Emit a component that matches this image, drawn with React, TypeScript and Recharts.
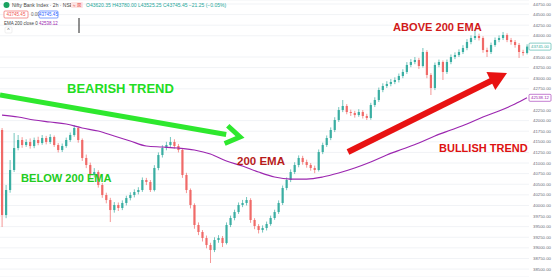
import { Bar, CartesianGrid, ComposedChart, Line, ReferenceLine, XAxis, YAxis } from "recharts";

// price data (2h candles)
const firstOpen = 41779;
const closes = [
  39774, 40364, 40836, 41354, 41543, 41425, 41496, 41401, 41543, 41472,
  41590, 41496, 41614, 41425, 41307, 41401, 41543, 41661, 41826, 41543,
  41119, 40954, 40718, 40788, 40482, 40246, 40128, 39892, 40011, 39940,
  40058, 40175, 40246, 40317, 40364, 40600, 40553, 40364, 40883, 41189,
  41354, 41425, 41496, 41401, 41307, 40718, 40364, 40011, 39539, 39374,
  39232, 39067, 38949, 39185, 39232, 39114, 39539, 39704, 39845, 40011,
  40058, 40128, 39657, 39515, 39421, 39468, 39562, 39704, 39845, 40058,
  40411, 40600, 40788, 40954, 41119, 41024, 40954, 40883, 40836, 41260,
  41425, 41590, 41779, 42015, 42250, 42345, 42203, 42180, 42132, 42203,
  42109, 42062, 42368, 42486, 42722, 42816, 42864, 42911, 42958, 43052,
  43147, 43312, 43382, 43430, 43288, 43618, 43076, 42769, 43312, 43382,
  43147, 43382, 43500, 43547, 43618, 43712, 43854, 43948, 43995, 43948,
  43665, 43618, 43783, 43901, 43948, 44019, 43901, 43854, 43783, 43618,
  43594, 43745,
];
const highs = [
  41826, 40482, 41071, 41708, 41661, 41610, 41560, 41580, 41600, 41620,
  41660, 41640, 41680, 41650, 41470, 41460, 41600, 41720, 41897, 41860,
  41580, 41200, 41010, 40880, 40830, 40530, 40300, 40180, 40080, 40070,
  40120, 40230, 40310, 40380, 40430, 40660, 40650, 40600, 40950, 41250,
  41420, 41500, 41614, 41560, 41450, 41350, 40770, 40400, 40050, 39600,
  39420, 39290, 39120, 39250, 39300, 39280, 39600, 39760, 39900, 40070,
  40130, 40199, 40170, 39700, 39560, 39530, 39620, 39760, 39900, 40120,
  40470, 40660, 40850, 41020, 41180, 41170, 41080, 41000, 40940, 41320,
  41480, 41650, 41840, 42080, 42320, 42486, 42390, 42260, 42230, 42270,
  42250, 42160, 42420, 42550, 42780, 42880, 42930, 42980, 43020, 43110,
  43210, 43380, 43450, 43500, 43480, 43712, 43660, 43120, 43370, 43440,
  43420, 43440, 43560, 43610, 43680, 43780, 43920, 44010, 44137, 44050,
  43990, 43720, 43840, 43960, 44010, 44090, 44060, 43950, 43900, 43830,
  43670, 43800,
];
const lows = [
  39491, 39700, 40300, 40788, 41300, 41360, 41380, 41340, 41350, 41420,
  41430, 41440, 41450, 41380, 41250, 41260, 41360, 41500, 41620, 41480,
  41050, 40880, 40650, 40660, 40420, 40180, 40050, 39609, 39830, 39870,
  39890, 40000, 40120, 40190, 40260, 40320, 40480, 40317, 40330, 40830,
  41130, 41300, 41380, 41340, 41250, 40650, 40290, 39930, 39450, 39300,
  39150, 38990, 38643, 38900, 39120, 39020, 39080, 39490, 39650, 39800,
  39960, 40000, 39590, 39440, 39340, 39360, 39410, 39520, 39660, 39800,
  40010, 40360, 40550, 40740, 40900, 40960, 40890, 40820, 40760, 40800,
  41210, 41380, 41540, 41730, 41970, 42200, 42150, 42110, 42070, 42090,
  42050, 42015, 42020, 42320, 42440, 42670, 42770, 42810, 42860, 42900,
  43000, 43100, 43260, 43330, 43220, 43250, 43000, 42604, 42720, 43260,
  42958, 43100, 43330, 43450, 43500, 43570, 43660, 43800, 43900, 43890,
  43600, 43500, 43570, 43740, 43850, 43900, 43850, 43790, 43720, 43477,
  43530, 43560,
];

// 200 EMA, sampled every few candles
const emaIndex = [
  0, 4, 8, 12, 16, 20, 24, 28, 32, 36, 40, 44, 48, 52, 56, 60, 64,
  68, 72, 76, 80, 84, 88, 92, 96, 100, 104, 108, 112, 116, 120, 124, 128, 131,
];
const emaValue = [
  42132, 42085, 42015, 41968, 41920, 41826, 41755, 41637, 41519, 41401, 41378, 41354, 41307, 41213, 41048, 40929, 40788,
  40671, 40623, 40623, 40671, 40765, 40883, 41024, 41189, 41331, 41472, 41637, 41779, 41920, 42085, 42227, 42392, 42538,
];

// axis labels (43750 and 42500 sit under the price tags and are not shown)
const priceTicks = [
  38500, 38750, 39000, 39250, 39500, 39750, 40000, 40250, 40500, 40750, 41000, 41250, 41500,
  41750, 42000, 42250, 42750, 43000, 43250, 43500, 44000, 44250, 44500, 44750,
];

const UP = "#3aaea2";
const DOWN = "#f06a68";
const EMA_COLOR = "#9c27b0";
const W = 553;
const H = 277;

const data = closes.map((c, i) => {
  const k = emaIndex.indexOf(i);
  return {
    i,
    open: i === 0 ? firstOpen : closes[i - 1],
    close: c,
    high: highs[i],
    low: lows[i],
    ema: k >= 0 ? emaValue[k] : null,
  };
});
const last = data[data.length - 1];

function Candle(props: any) {
  const { x, y, width, height, payload } = props;
  if (payload == null) return null;
  const top = Math.min(y, y + height);
  const h = Math.abs(height);
  const span = payload.high - payload.low || 1;
  const toY = (v: number) => top + ((payload.high - v) / span) * h;
  const up = payload.close >= payload.open;
  const color = up ? UP : DOWN;
  const cx = x + width / 2;
  const b1 = toY(Math.max(payload.open, payload.close));
  const b2 = toY(Math.min(payload.open, payload.close));
  return (
    <g>
      <line x1={cx} x2={cx} y1={top} y2={top + h} stroke={color} strokeWidth={0.7} />
      <rect x={x} y={b1} width={width} height={Math.max(0.8, b2 - b1)} fill={color} />
    </g>
  );
}

function PriceTag(props: any) {
  const { viewBox, text, color } = props;
  if (!viewBox) return null;
  const x = viewBox.x + viewBox.width;
  const y = viewBox.y;
  return (
    <g>
      <rect x={x} y={y - 3.5} width={22} height={7} fill="#fff" stroke={color} strokeWidth={0.6} rx={1} />
      <text x={x + 11} y={y + 1.6} textAnchor="middle" fontSize={4.3} fill={color} fontFamily="Liberation Sans, Arial">
        {text}
      </text>
    </g>
  );
}

function arrowHead(x1: number, y1: number, x2: number, y2: number, len: number, half: number) {
  const d = Math.hypot(x2 - x1, y2 - y1);
  const ux = (x2 - x1) / d;
  const uy = (y2 - y1) / d;
  const bx = x2 - ux * len;
  const by = y2 - uy * len;
  return {
    base: [bx, by],
    left: [bx - uy * half, by + ux * half],
    right: [bx + uy * half, by - ux * half],
  };
}

function Overlay() {
  const g = arrowHead(0, 95, 240, 137, 14, 9);
  const r = arrowHead(348, 152, 507, 73, 18, 10);
  const font = "Liberation Sans, Arial, sans-serif";
  return (
    <svg width={W} height={H} style={{ position: "absolute", left: 0, top: 0, pointerEvents: "none" }}>
      {/* legend header */}
      <circle cx={6.5} cy={5} r={3} fill="#1aa260" />
      <text x={12} y={6.8} fontSize={5} fill="#444" fontFamily={font}>Nifty Bank Index · 2h · NSE</text>
      <rect x={71} y={2} width={12} height={6} rx={1} fill="#fde4e4" />
      <text x={73} y={6.6} fontSize={4.5} fill="#e53935" fontFamily={font}>≈ ☒</text>
      <text x={86} y={6.8} fontSize={5} fill="#26a69a" fontFamily={font}>
        O43620.35 H43780.00 L43525.25 C43745.45 −21.25 (−0.05%)
      </text>
      <rect x={4} y={11} width={24} height={7} fill="#fff" stroke="#ef5350" strokeWidth={0.6} rx={1} />
      <text x={16} y={15.9} textAnchor="middle" fontSize={4.5} fill="#ef5350" fontFamily={font}>43745.45</text>
      <text x={31} y={15.9} fontSize={4.5} fill="#666" fontFamily={font}>0.00</text>
      <rect x={39} y={11} width={19} height={7} fill="#fff" stroke="#2962ff" strokeWidth={0.6} rx={1} />
      <text x={48.5} y={15.9} textAnchor="middle" fontSize={4.5} fill="#2962ff" fontFamily={font}>43745.45</text>
      <text x={4} y={24.5} fontSize={4.5} fill="#444" fontFamily={font}>
        EMA 200 close 0
        <tspan fill={EMA_COLOR}> 42538.12</tspan>
      </text>
      <rect x={5} y={27} width={7} height={6} fill="#fff" stroke="#ddd" strokeWidth={0.5} rx={1} />
      <text x={8.5} y={32} textAnchor="middle" fontSize={5} fill="#555" fontFamily={font}>^</text>
      <line x1={79} x2={79} y1={18} y2={33} stroke="#222" strokeWidth={1} />

      {/* bearish arrow */}
      <line x1={0} y1={95} x2={g.base[0]} y2={g.base[1]} stroke="#2ee82e" strokeWidth={5} />
      <polyline
        points={`${g.left[0]},${g.left[1]} 240,137 ${g.right[0]},${g.right[1]}`}
        fill="none"
        stroke="#2ee82e"
        strokeWidth={5}
        strokeLinejoin="miter"
      />
      {/* bullish arrow */}
      <line x1={348} y1={152} x2={r.base[0] + 2} y2={r.base[1] - 1} stroke="#e81212" strokeWidth={6} />
      <polygon points={`${r.left[0]},${r.left[1]} 507,73 ${r.right[0]},${r.right[1]}`} fill="#e81212" />

      <g fontFamily={font} fontWeight="bold">
        <text x={67} y={93} fontSize={13} fill="#22dd22">BEARISH TREND</text>
        <text x={21} y={182} fontSize={11.1} fill="#22cc22">BELOW 200 EMA</text>
        <text x={237} y={165} fontSize={11.5} fill="#b71c1c">200 EMA</text>
        <text x={393} y={31} fontSize={11.1} fill="#d11a1a">ABOVE 200 EMA</text>
        <text x={439} y={152} fontSize={11} fill="#dd1111">BULLISH TREND</text>
      </g>
    </svg>
  );
}

export default function App() {
  return (
    <div style={{ position: "fixed", left: 0, top: 0, width: W, height: H, background: "#fff" }}>
      <ComposedChart width={W} height={H} data={data} margin={{ top: 0, right: 0, bottom: 0, left: 0 }} barCategoryGap={0}>
        <CartesianGrid stroke="#f1f3f6" vertical={false} />
        <XAxis dataKey="i" hide />
        <YAxis
          orientation="right"
          domain={[38313, 44844]}
          allowDataOverflow
          ticks={priceTicks}
          interval={0}
          width={24}
          tickSize={0}
          tickMargin={4}
          axisLine={false}
          tickLine={false}
          tick={{ fontSize: 4.3, fill: "#6a6d78", fontFamily: "Liberation Sans, Arial", textAnchor: "start" }}
          tickFormatter={(v: number) => v.toFixed(2)}
        />
        <Bar
          dataKey={(d: any) => [d.low, d.high]}
          barSize={2.2}
          isAnimationActive={false}
          shape={(p: any) => <Candle {...p} />}
        />
        <Line
          dataKey="ema"
          type="monotone"
          stroke={EMA_COLOR}
          strokeWidth={1.2}
          dot={false}
          activeDot={false}
          connectNulls
          isAnimationActive={false}
        />
        <ReferenceLine
          y={last.close}
          stroke="none"
          ifOverflow="visible"
          label={<PriceTag text={last.close.toFixed(2)} color={UP} />}
        />
        <ReferenceLine
          y={emaValue[emaValue.length - 1]}
          stroke="none"
          ifOverflow="visible"
          label={<PriceTag text={"42538.12"} color={EMA_COLOR} />}
        />
      </ComposedChart>
      <Overlay />
    </div>
  );
}
